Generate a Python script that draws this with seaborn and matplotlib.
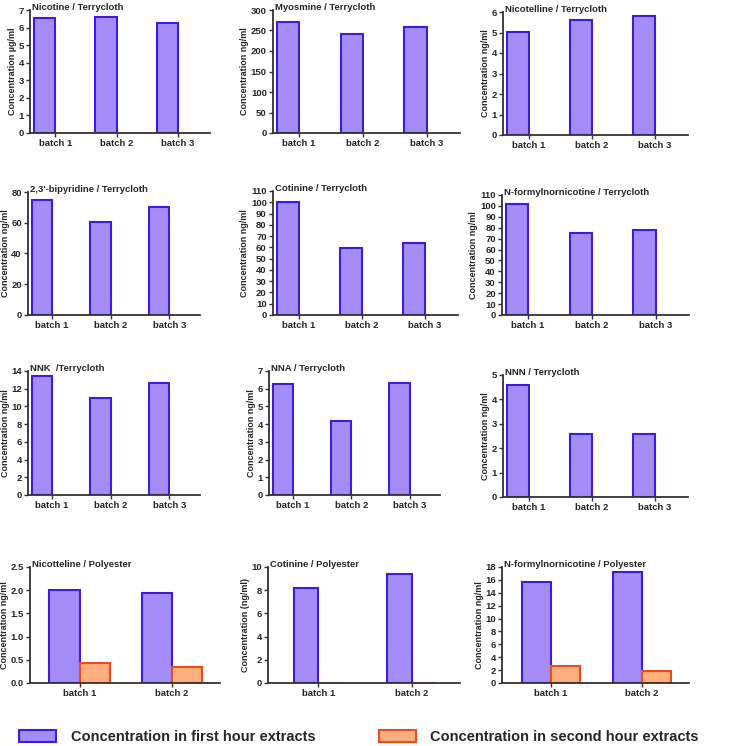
import matplotlib
matplotlib.use("Agg")
import matplotlib.pyplot as plt
import matplotlib.ticker as mticker
from matplotlib.patches import Patch
import numpy as np
import pandas as pd
import seaborn as sns

# panel data ---------------------------------------------------------------
titles = ["Nicotine / Terrycloth", "Myosmine / Terrycloth", "Nicotelline / Terrycloth",
          "2,3'-bipyridine / Terrycloth", "Cotinine / Terrycloth", "N-formylnornicotine / Terrycloth",
          "NNK  /Terrycloth", "NNA / Terrycloth", "NNN / Terrycloth",
          "Nicotteline / Polyester", "Cotinine / Polyester", "N-formylnornicotine / Polyester"]
ylabels = ["Concentration µg/ml"] + ["Concentration ng/ml"] * 9 + \
          ["Concentration (ng/ml)", "Concentration ng/ml"]

batches3 = ["batch 1", "batch 2", "batch 3"]
batches2 = ["batch 1", "batch 2"]

first_hour = [
    [6.55, 6.62, 6.27],
    [270, 241, 259],
    [5.03, 5.60, 5.82],
    [74.5, 60.5, 70.0],
    [100, 59.5, 63.5],
    [102, 75.5, 78.0],
    [13.4, 10.9, 12.7],
    [6.25, 4.18, 6.30],
    [4.60, 2.57, 2.60],
    [2.00, 1.94],
    [8.15, 9.40],
    [15.6, 17.3],
]
# second hour extracts only measured for polyester
second_hour = [None] * 9 + [[0.43, 0.35], [0.0, 0.0], [2.7, 1.9]]

ymax = [7, 300, 6, 80, 110, 110, 14, 7, 5, 2.5, 10, 18]
ystep = [1, 50, 1, 20, 10, 10, 2, 1, 1, 0.5, 2, 2]

series_names = ["Concentration in first hour extracts", "Concentration in second hour extracts"]
fill_colors = ["#A58DF9", "#FFAF7C"]
edge_colors = ["#3D1ED8", "#EE4B1D"]

# axes rectangles in pixels: left, right, top, bottom
W, H = 733, 746
rects = [
    (30, 210, 10, 133), (273, 460, 10, 133), (503, 688, 12, 135),
    (28, 200, 192, 315), (273, 458, 191, 315), (502, 689, 195, 315),
    (28, 200, 371, 495), (269, 440, 371, 495), (503, 688, 375, 497),
    (30, 220, 567, 683), (268, 460, 567, 683), (502, 689, 567, 683),
]
bar_widths = [0.70] * 9 + [0.66, 0.52, 0.64]

sns.set_style("white")
plt.rcParams['font.family'] = ['Liberation Sans', 'DejaVu Sans']
plt.rcParams['font.weight'] = 'bold'

fig = plt.figure(figsize=(W / 100, H / 100), dpi=100)

for i in range(12):
    l, r, t, b = rects[i]
    ax = fig.add_axes([l / W, 1 - b / H, (r - l) / W, (b - t) / H])

    cats = batches3 if len(first_hour[i]) == 3 else batches2
    rows = []
    for c, v in zip(cats, first_hour[i]):
        rows.append({"batch": c, "series": series_names[0], "value": v})
    if second_hour[i] is not None:
        for c, v in zip(cats, second_hour[i]):
            rows.append({"batch": c, "series": series_names[1], "value": v})
    df = pd.DataFrame(rows)

    sns.barplot(data=df, x="batch", y="value", hue="series", hue_order=series_names,
                order=cats, palette=fill_colors, saturation=1, width=bar_widths[i],
                dodge=True, gap=0, legend=False, ax=ax, linewidth=1.5, errorbar=None)

    # edge colours per series (match on fill colour)
    purple = np.array(matplotlib.colors.to_rgb(fill_colors[0]))
    for patch in ax.patches:
        fc = np.array(patch.get_facecolor()[:3])
        is_first = np.abs(fc - purple).sum() < 0.05
        patch.set_edgecolor(edge_colors[0] if is_first else edge_colors[1])
        patch.set_zorder(1)

    n = len(cats)
    ax.set_xlim(-0.41 if n == 3 else -0.54, n - 1 + 0.52)
    ax.set_ylim(0, ymax[i])
    ax.set_yticks(np.arange(0, ymax[i] + ystep[i] / 2, ystep[i]))
    if ystep[i] < 1:
        ax.yaxis.set_major_formatter(mticker.FormatStrFormatter('%.1f'))
    ax.set_xlabel("")
    ax.set_ylabel(ylabels[i], fontsize=6.5, fontweight='bold', labelpad=1)
    for side in ["top", "right"]:
        ax.spines[side].set_visible(False)
    for side in ["left", "bottom"]:
        ax.spines[side].set_linewidth(1.3)
        ax.spines[side].set_color("#333333")
        ax.spines[side].set_zorder(3)
    ax.tick_params(axis='both', which='major', direction='out', length=3, width=1,
                   color="#333333", labelsize=6.8, pad=1.5, left=True, bottom=True)
    for lbl in ax.get_xticklabels() + ax.get_yticklabels():
        lbl.set_fontweight('bold')
    ax.text(0.01, 0.985, titles[i], transform=ax.transAxes, ha='left', va='bottom',
            fontsize=6.8, fontweight='bold')

handles = [Patch(facecolor=fill_colors[k], edgecolor=edge_colors[k], linewidth=1.5,
                 label=series_names[k]) for k in range(2)]
fig.legend(handles=handles, loc='center', bbox_to_anchor=(0.49, 1 - 737 / H), ncol=2,
           frameon=False, prop={'size': 10.5, 'weight': 'bold'}, handlelength=2.5,
           handleheight=0.85, handletextpad=1.0, columnspacing=4.4)

fig.savefig("out.png", dpi=100)
